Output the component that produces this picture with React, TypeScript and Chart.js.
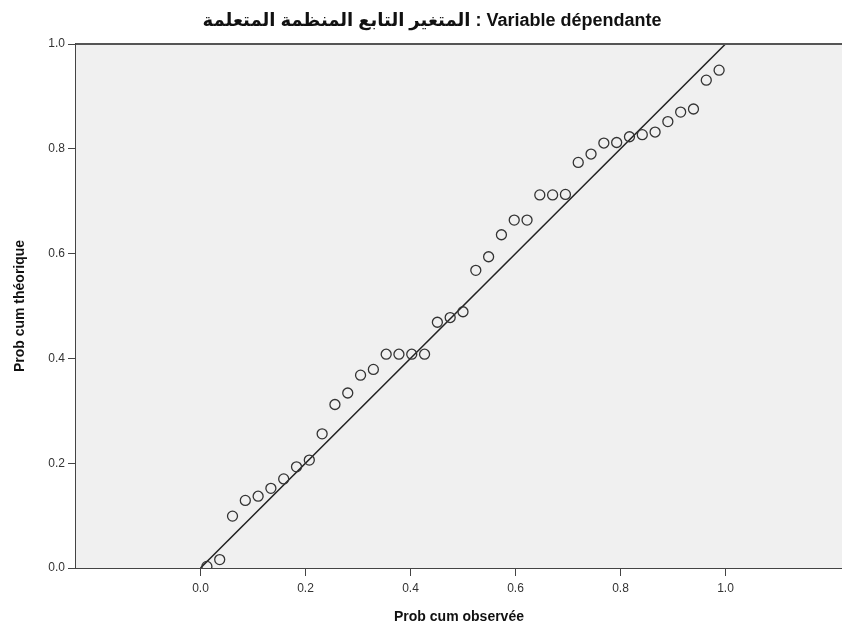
import { useEffect, useRef } from "react";
import { Chart, registerables } from "chart.js";

Chart.register(...registerables);

// Observed cumulative probability (x) for each case
const observedCum = [
  0.0122, 0.0366, 0.061, 0.0854, 0.1098, 0.1341, 0.1585, 0.1829, 0.2073, 0.2317,
  0.2561, 0.2805, 0.3049, 0.3293, 0.3537, 0.378, 0.4024, 0.4268, 0.4512, 0.4756,
  0.5, 0.5244, 0.5488, 0.5732, 0.5976, 0.622, 0.6463, 0.6707, 0.6951, 0.7195,
  0.7439, 0.7683, 0.7927, 0.8171, 0.8415, 0.8659, 0.8902, 0.9146, 0.939, 0.9634,
  0.9878,
];

// Expected (theoretical) cumulative probability (y) for each case
const expectedCum = [
  0.003, 0.016, 0.099, 0.129, 0.137, 0.152, 0.17, 0.193, 0.206, 0.256,
  0.312, 0.334, 0.368, 0.379, 0.408, 0.408, 0.408, 0.408, 0.469, 0.478,
  0.489, 0.568, 0.594, 0.636, 0.664, 0.664, 0.712, 0.712, 0.713, 0.774,
  0.79, 0.811, 0.812, 0.823, 0.827, 0.832, 0.852, 0.87, 0.876, 0.931,
  0.95,
];

// Reference diagonal
const refLineX = [0, 1];
const refLineY = [0, 1];

const xTickValues = [0, 0.2, 0.4, 0.6, 0.8, 1.0];
const yTickValues = [0, 0.2, 0.4, 0.6, 0.8, 1.0];

const titleText = "المتغير التابع المنظمة المتعلمة : Variable dépendante";
const xTitle = "Prob cum observée";
const yTitle = "Prob cum théorique";

const FONT = "'Liberation Sans', Arial, 'DejaVu Sans', sans-serif";

const plotFrame = {
  id: "plotFrame",
  beforeDatasetsDraw(chart: any) {
    const { ctx, chartArea: a } = chart;
    ctx.save();
    ctx.fillStyle = "#f0f0f0";
    ctx.fillRect(a.left, a.top, a.right - a.left, a.bottom - a.top);
    ctx.restore();
  },
  afterDraw(chart: any) {
    const { ctx, chartArea: a } = chart;
    ctx.save();
    ctx.strokeStyle = "#555555";
    ctx.lineWidth = 2;
    ctx.beginPath();
    ctx.moveTo(a.left, a.top);
    ctx.lineTo(a.right, a.top);
    ctx.stroke();
    // chart title
    ctx.fillStyle = "#111111";
    ctx.font = `bold 18px ${FONT}`;
    ctx.textAlign = "center";
    ctx.textBaseline = "middle";
    ctx.fillText(titleText, 432, 21);
    ctx.restore();
  },
};

export default function App() {
  const ref = useRef<HTMLCanvasElement | null>(null);

  useEffect(() => {
    if (!ref.current) return;
    const chart = new Chart(ref.current, {
      type: "scatter",
      data: {
        datasets: [
          {
            label: "ref",
            data: refLineX.map((x, i) => ({ x, y: refLineY[i] })),
            showLine: true,
            borderColor: "#222222",
            borderWidth: 1.5,
            pointRadius: 0,
            order: 2,
          },
          {
            label: "cases",
            data: observedCum.map((x, i) => ({ x, y: expectedCum[i] })),
            showLine: false,
            pointRadius: 5,
            pointBorderColor: "#333333",
            pointBackgroundColor: "rgba(0,0,0,0)",
            pointBorderWidth: 1.3,
            order: 1,
          },
        ],
      },
      options: {
        responsive: false,
        animation: false,
        layout: { padding: { top: 44, left: 0, right: 0, bottom: 0 }, autoPadding: false },
        plugins: {
          legend: { display: false },
          tooltip: { enabled: false },
          title: { display: false },
        },
        scales: {
          x: {
            type: "linear",
            min: -0.2371,
            max: 1.2219,
            afterBuildTicks: (scale: any) => {
              scale.ticks = xTickValues.map((v) => ({ value: v }));
            },
            afterFit: (scale: any) => {
              scale.height = 60;
            },
            ticks: {
              color: "#333333",
              font: { family: FONT, size: 12 },
              padding: 5,
              maxRotation: 0,
              callback: (v: any) => Number(v).toFixed(1),
            },
            grid: {
              display: true,
              drawOnChartArea: false,
              drawTicks: true,
              tickLength: 8,
              color: "#444444",
              lineWidth: 1,
            },
            border: { display: true, color: "#444444", width: 2 },
            title: {
              display: true,
              text: xTitle,
              color: "#111111",
              font: { family: FONT, size: 14, weight: "bold" },
              padding: { top: 0, bottom: 2 },
            },
          },
          y: {
            type: "linear",
            min: 0,
            max: 1,
            afterBuildTicks: (scale: any) => {
              scale.ticks = yTickValues.map((v) => ({ value: v }));
            },
            afterFit: (scale: any) => {
              scale.width = 76;
            },
            ticks: {
              color: "#333333",
              font: { family: FONT, size: 12 },
              padding: 3,
              callback: (v: any) => Number(v).toFixed(1),
            },
            grid: {
              display: true,
              drawOnChartArea: false,
              drawTicks: true,
              tickLength: 8,
              color: "#444444",
              lineWidth: 1,
            },
            border: { display: true, color: "#444444", width: 2 },
            title: {
              display: true,
              text: yTitle,
              color: "#111111",
              font: { family: FONT, size: 14, weight: "bold" },
              padding: { top: 12, bottom: 0 },
            },
          },
        },
      },
      plugins: [plotFrame],
    } as any);
    return () => chart.destroy();
  }, []);

  return (
    <div style={{ position: "fixed", left: 0, top: 0, width: 842, height: 628, background: "#ffffff" }}>
      <canvas ref={ref} width={842} height={628} style={{ display: "block" }} />
    </div>
  );
}
